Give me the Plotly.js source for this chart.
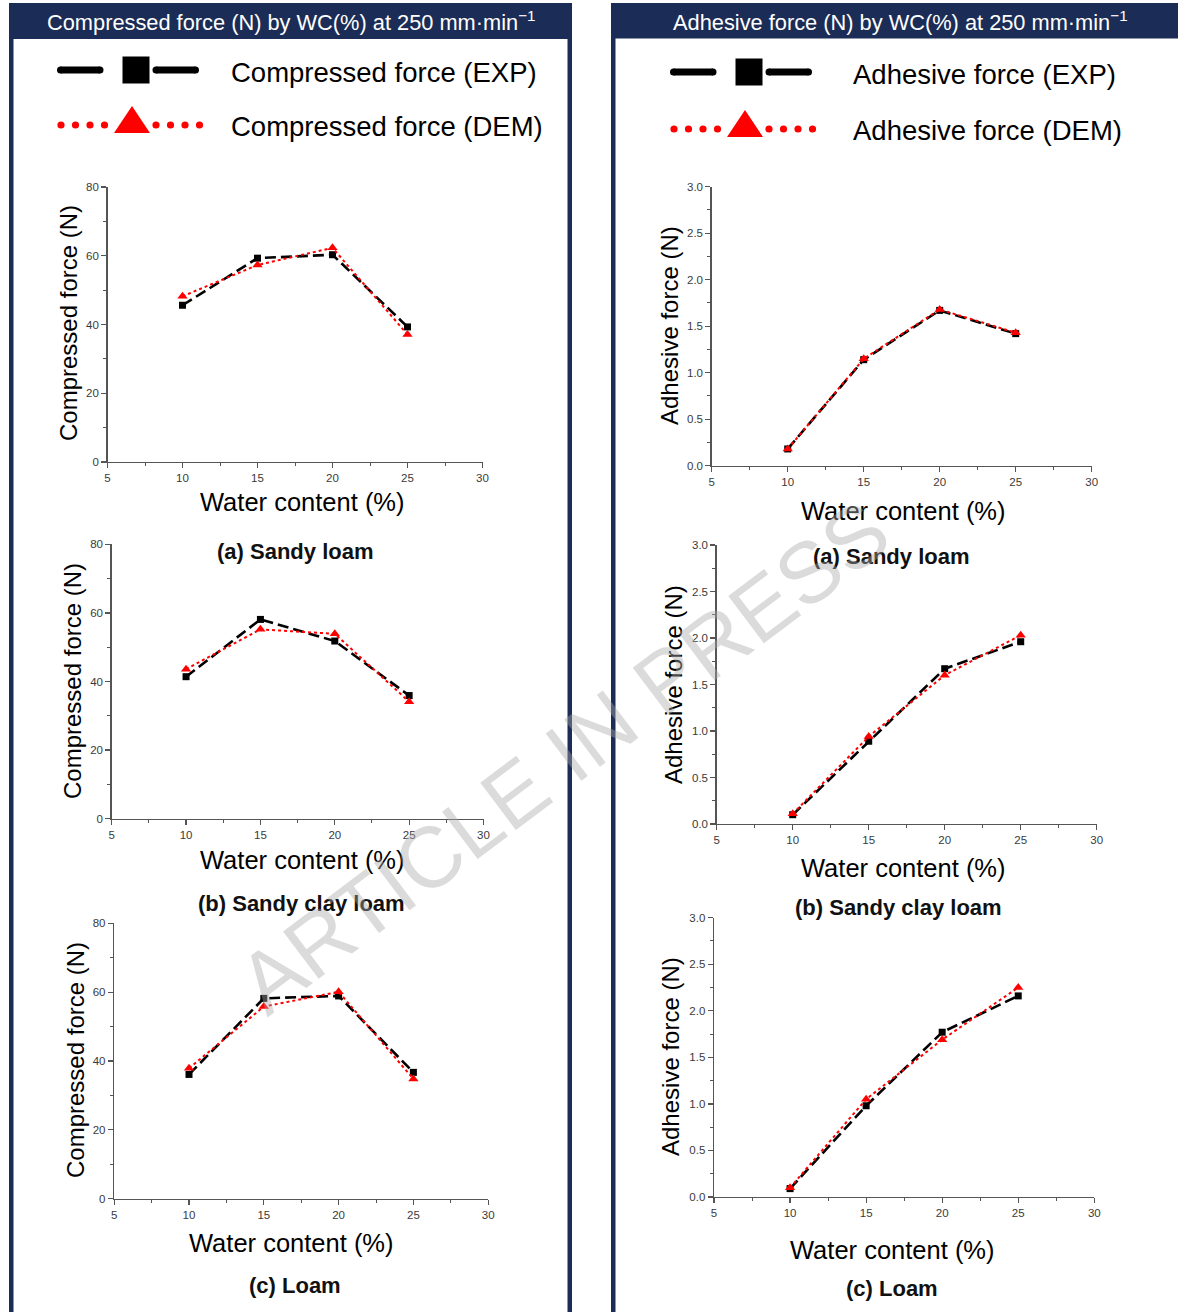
<!DOCTYPE html>
<html>
<head>
<meta charset="utf-8">
<script src="https://cdn.plot.ly/plotly-3.0.1.min.js"></script>
<style>
  html, body { margin: 0; padding: 0; background: #ffffff; }
  #chart { width: 1178px; height: 1312px; }
</style>
</head>
<body>
<div id="chart"></div>
<script>
// ---------------- data ----------------
const waterContent = [10, 15, 20, 25];

const compExpSandyLoam      = [45.6, 59.3, 60.3, 39.3];
const compDemSandyLoam      = [48.2, 57.3, 62.3, 37.1];
const compExpSandyClayLoam  = [41.4, 58.1, 51.8, 35.9];
const compDemSandyClayLoam  = [43.6, 55.2, 53.9, 34.1];
const compExpLoam           = [36.1, 58.2, 58.9, 36.7];
const compDemLoam           = [37.9, 55.8, 60.1, 34.8];

const adhExpSandyLoam       = [0.18, 1.14, 1.67, 1.42];
const adhDemSandyLoam       = [0.18, 1.15, 1.68, 1.43];
const adhExpSandyClayLoam   = [0.10, 0.89, 1.67, 1.96];
const adhDemSandyClayLoam   = [0.11, 0.94, 1.60, 2.03];
const adhExpLoam            = [0.09, 0.98, 1.77, 2.16];
const adhDemLoam            = [0.10, 1.05, 1.69, 2.25];

const compHeader = 'Compressed force (N) by WC(%) at 250 mm·min<sup>−1</sup>';
const adhHeader  = 'Adhesive force (N) by WC(%) at 250 mm·min<sup>−1</sup>';
const compExpName = 'Compressed force (EXP)';
const compDemName = 'Compressed force (DEM)';
const adhExpName  = 'Adhesive force (EXP)';
const adhDemName  = 'Adhesive force (DEM)';
const compYTitle = 'Compressed force (N)';
const adhYTitle  = 'Adhesive force (N)';
const xTitle = 'Water content (%)';
const captions = ['(a) Sandy loam', '(b) Sandy clay loam', '(c) Loam'];
const watermark = 'ARTICLE IN PRESS';

// ---------------- layout helpers ----------------
const W = 1178, H = 1312;
const px = x => x / W;
const py = y => 1 - y / H;
const FONT = 'Liberation Sans, Arial, Helvetica, sans-serif';
const NAVY = '#1b2d56';

// panels: pixel boxes of each plot area
const panels = [
  {kind: 'comp', x0: 107.5, x1: 482.5, yt: 187,   yb: 462,   exp: compExpSandyLoam,     dem: compDemSandyLoam,     expName: compExpName, demName: compDemName,
   ytx: 68,  yty: 323,  xtx: 302, xty: 502,  cx: 295, cy: 552,  cap: captions[0]},
  {kind: 'adh',  x0: 711.7, x1: 1091.7, yt: 186.7, yb: 465.7, exp: adhExpSandyLoam,      dem: adhDemSandyLoam,      expName: adhExpName,  demName: adhDemName,
   ytx: 669, yty: 326,  xtx: 903, xty: 511,  cx: 891, cy: 556,  cap: captions[0]},
  {kind: 'comp', x0: 111.7, x1: 483.5, yt: 544.3, yb: 818.7, exp: compExpSandyClayLoam, dem: compDemSandyClayLoam, expName: compExpName, demName: compDemName,
   ytx: 72,  yty: 681,  xtx: 302, xty: 860,  cx: 301, cy: 904,  cap: captions[1]},
  {kind: 'adh',  x0: 716.7, x1: 1096.7, yt: 545,   yb: 824,   exp: adhExpSandyClayLoam,  dem: adhDemSandyClayLoam,  expName: adhExpName,  demName: adhDemName,
   ytx: 673, yty: 685,  xtx: 903, xty: 868,  cx: 898, cy: 907,  cap: captions[1]},
  {kind: 'comp', x0: 114.2, x1: 488.2, yt: 923.3, yb: 1198.7, exp: compExpLoam,         dem: compDemLoam,          expName: compExpName, demName: compDemName,
   ytx: 75,  yty: 1060, xtx: 291, xty: 1243, cx: 295, cy: 1285, cap: captions[2]},
  {kind: 'adh',  x0: 714,   x1: 1094.3, yt: 917.7, yb: 1197,  exp: adhExpLoam,           dem: adhDemLoam,           expName: adhExpName,  demName: adhDemName,
   ytx: 670, yty: 1057, xtx: 892, xty: 1250, cx: 892, cy: 1288, cap: captions[2]}
];

const layout = {
  width: W, height: H,
  margin: {l: 0, r: 0, t: 0, b: 0},
  paper_bgcolor: '#ffffff',
  plot_bgcolor: 'rgba(0,0,0,0)',
  showlegend: false,
  font: {family: FONT, color: '#000'},
  shapes: [],
  annotations: []
};

const traces = [];
const AX = '#555555';

panels.forEach((p, i) => {
  const n = i + 1;
  const xa = 'xaxis' + (n === 1 ? '' : n);
  const ya = 'yaxis' + (n === 1 ? '' : n);
  const xr = 'x' + (n === 1 ? '' : n);
  const yr = 'y' + (n === 1 ? '' : n);
  layout[xa] = {
    domain: [px(p.x0), px(p.x1)], anchor: yr,
    range: [5, 30], tick0: 5, dtick: 5,
    ticks: 'outside', ticklen: 5, tickwidth: 1.2, tickcolor: AX,
    showline: true, linecolor: AX, linewidth: 1.4,
    showgrid: false, zeroline: false,
    tickfont: {size: 11.5, color: '#3a3a3a', family: FONT},
    minor: {dtick: 2.5, tick0: 5, ticks: 'outside', ticklen: 3, tickwidth: 1, tickcolor: AX, showgrid: false},
    fixedrange: true
  };
  const isComp = p.kind === 'comp';
  layout[ya] = {
    domain: [py(p.yb), py(p.yt)], anchor: xr,
    range: isComp ? [0, 80] : [0, 3], tick0: 0, dtick: isComp ? 20 : 0.5,
    tickformat: isComp ? 'd' : '.1f',
    ticks: 'outside', ticklen: 5, tickwidth: 1.2, tickcolor: AX,
    showline: true, linecolor: AX, linewidth: 1.4,
    showgrid: false, zeroline: false,
    tickfont: {size: 11.5, color: '#3a3a3a', family: FONT},
    minor: {dtick: isComp ? 10 : 0.25, tick0: 0, ticks: 'outside', ticklen: 3, tickwidth: 1, tickcolor: AX, showgrid: false},
    fixedrange: true
  };
  traces.push({
    type: 'scatter', mode: 'lines+markers', name: p.expName,
    x: waterContent, y: p.exp, xaxis: xr, yaxis: yr, cliponaxis: false,
    line: {color: '#000000', width: 2.6, dash: '11px,5px'},
    marker: {symbol: 'square', size: 7, color: '#000000'}
  });
  traces.push({
    type: 'scatter', mode: 'lines+markers', name: p.demName,
    x: waterContent, y: p.dem, xaxis: xr, yaxis: yr, cliponaxis: false,
    line: {color: '#ff0000', width: 2, dash: 'dot'},
    marker: {symbol: 'triangle-up', size: 9, color: '#ff0000'}
  });
  // axis titles and captions
  layout.annotations.push({
    xref: 'paper', yref: 'paper', x: px(p.ytx), y: py(p.yty), text: isComp ? compYTitle : adhYTitle,
    textangle: -90, showarrow: false, xanchor: 'center', yanchor: 'middle',
    font: {size: 24, color: '#000', family: FONT}
  });
  layout.annotations.push({
    xref: 'paper', yref: 'paper', x: px(p.xtx), y: py(p.xty), text: xTitle,
    showarrow: false, xanchor: 'center', yanchor: 'middle',
    font: {size: 25.5, color: '#000', family: FONT}
  });
  layout.annotations.push({
    xref: 'paper', yref: 'paper', x: px(p.cx), y: py(p.cy), text: '<b>' + p.cap + '</b>',
    showarrow: false, xanchor: 'center', yanchor: 'middle',
    font: {size: 22, color: '#111', family: FONT}
  });
});

// ---------------- panel frames ----------------
function rect(x0, y0, x1, y1, color) {
  layout.shapes.push({type: 'rect', xref: 'paper', yref: 'paper', layer: 'below',
    x0: px(x0), x1: px(x1), y0: py(y1), y1: py(y0), fillcolor: color, line: {width: 0}});
}
// left panel
rect(9, 3, 572, 39, NAVY);
rect(9, 3, 13.5, 1320, NAVY);
rect(567.5, 3, 572, 1320, NAVY);
// right panel
rect(611, 3, 1180, 38.5, NAVY);
rect(611, 3, 615.5, 1320, NAVY);

layout.annotations.push({xref: 'paper', yref: 'paper', x: px(291), y: py(21), text: compHeader,
  showarrow: false, xanchor: 'center', yanchor: 'middle', font: {size: 21.8, color: '#ffffff', family: FONT}});
layout.annotations.push({xref: 'paper', yref: 'paper', x: px(900), y: py(21), text: adhHeader,
  showarrow: false, xanchor: 'center', yanchor: 'middle', font: {size: 21.8, color: '#ffffff', family: FONT}});

// ---------------- legend samples ----------------
function hline(x0, x1, y, color, w) {
  layout.shapes.push({type: 'line', xref: 'paper', yref: 'paper',
    x0: px(x0), x1: px(x1), y0: py(y), y1: py(y), line: {color: color, width: w}});
}
function square(cx, cy, s, color) {
  layout.shapes.push({type: 'rect', xref: 'paper', yref: 'paper',
    x0: px(cx - s / 2), x1: px(cx + s / 2), y0: py(cy + s / 2), y1: py(cy - s / 2), fillcolor: color, line: {width: 0}});
}
function dot(cx, cy, r, color) {
  layout.shapes.push({type: 'circle', xref: 'paper', yref: 'paper',
    x0: px(cx - r), x1: px(cx + r), y0: py(cy + r), y1: py(cy - r), fillcolor: color, line: {width: 0}});
}
function cap(cx, cy, r, color) { dot(cx, cy, r, color); }
function triangle(cx, yTop, yBot, halfW, color) {
  const path = 'M ' + px(cx - halfW) + ' ' + py(yBot) + ' L ' + px(cx + halfW) + ' ' + py(yBot) +
               ' L ' + px(cx) + ' ' + py(yTop) + ' Z';
  layout.shapes.push({type: 'path', xref: 'paper', yref: 'paper', path: path, fillcolor: color, line: {width: 0}});
}
function legendSet(xStart, yExp, yDem, textX, expText, demText) {
  // EXP sample (rounded-end thick segments around a big square)
  hline(xStart + 3.5, xStart + 43, yExp, '#000', 7);
  cap(xStart + 3.5, yExp, 3.5, '#000'); cap(xStart + 43, yExp, 3.5, '#000');
  square(xStart + 79, yExp, 27, '#000');
  hline(xStart + 99, xStart + 138.5, yExp, '#000', 7);
  cap(xStart + 99, yExp, 3.5, '#000'); cap(xStart + 138.5, yExp, 3.5, '#000');
  // DEM sample
  for (let k = 0; k < 4; k++) dot(xStart + 4 + k * 14.5, yDem, 3.6, '#ff0000');
  triangle(xStart + 75, yDem - 19, yDem + 8, 18, '#ff0000');
  for (let k = 0; k < 4; k++) dot(xStart + 99 + k * 14.5, yDem, 3.6, '#ff0000');
  layout.annotations.push({xref: 'paper', yref: 'paper', x: px(textX), y: py(yExp + 2), text: expText,
    showarrow: false, xanchor: 'left', yanchor: 'middle', font: {size: 27.5, color: '#000', family: FONT}});
  layout.annotations.push({xref: 'paper', yref: 'paper', x: px(textX), y: py(yDem + 1), text: demText,
    showarrow: false, xanchor: 'left', yanchor: 'middle', font: {size: 27.5, color: '#000', family: FONT}});
}
legendSet(57, 70, 125, 229, compExpName, compDemName);
legendSet(670, 72, 129, 851, adhExpName, adhDemName);

// ---------------- watermark ----------------
layout.annotations.push({xref: 'paper', yref: 'paper', x: px(563), y: py(757), text: watermark,
  textangle: -37, showarrow: false, xanchor: 'center', yanchor: 'middle',
  font: {size: 86, color: 'rgba(170,170,170,0.42)', family: FONT}});

Plotly.newPlot('chart', traces, layout, {displayModeBar: false, staticPlot: true});
</script>
</body>
</html>
